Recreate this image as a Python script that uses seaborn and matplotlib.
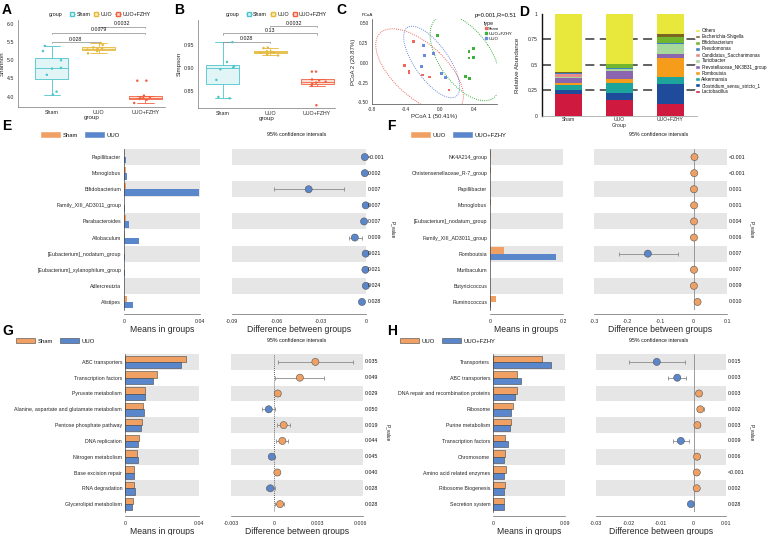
import numpy as np
import pandas as pd
import matplotlib
matplotlib.use('Agg')
import matplotlib.pyplot as plt
import matplotlib.transforms as mtransforms
from matplotlib.patches import Ellipse, Patch
from matplotlib.lines import Line2D
import seaborn as sns

sns.set_theme(style='white')
plt.rcParams['font.family'] = ['Liberation Sans', 'DejaVu Sans']
plt.rcParams['axes.linewidth'] = 0.5
plt.rcParams['axes.edgecolor'] = '#444444'
plt.rcParams['text.color'] = '#111111'
np.random.seed(3)

# ---------------- data ----------------
groups = ['Sham', 'UUO', 'UUO+FZHY']
shannon_sham = [4.06, 4.14, 4.60, 4.77, 4.79, 5.00, 5.25, 5.39]
shannon_uuo = [5.19, 5.25, 5.29, 5.31, 5.33, 5.35, 5.42, 5.47]
shannon_fzhy = [3.83, 3.92, 3.94, 3.96, 3.97, 3.99, 4.03, 4.44, 4.44]
shannon_p = ['0.028', '0.0079', '0.0032']
simpson_sham = [0.835, 0.838, 0.875, 0.898, 0.902, 0.905, 0.914, 0.957]
simpson_uuo = [0.928, 0.930, 0.934, 0.935, 0.936, 0.937, 0.944, 0.945]
simpson_fzhy = [0.820, 0.862, 0.866, 0.869, 0.871, 0.874, 0.876, 0.893, 0.893]
simpson_p = ['0.028', '0.13', '0.0032']

pc_type = ['Sham'] * 7 + ['UUO'] * 6 + ['UUO+FZHY'] * 7
pc1 = [-0.31, -0.42, -0.365, -0.365, -0.21, -0.12, 0.106,
       -0.19, -0.08, -0.18, -0.22, 0.02, 0.06,
       -0.03, 0.39, 0.34, 0.34, 0.39, 0.30, 0.35]
pc2 = [0.27, -0.04, -0.11, -0.13, -0.155, -0.18, -0.345,
       0.22, 0.12, 0.095, -0.05, -0.14, -0.19,
       0.345, 0.18, 0.14, 0.06, 0.07, -0.17, -0.20]

genera = ['Lactobacillus', 'Clostridium_sensu_stricto_1', 'Akkermansia', 'Romboutsia',
          'Prevotellaceae_NK3B31_group', 'Turicibacter', 'Candidatus_Saccharimonas',
          'Pseudomonas', 'Bifidobacterium', 'Escherichia-Shigella', 'Others']
abund_sham = [0.22, 0.03, 0.05, 0.02, 0.05, 0.015, 0.025, 0.01, 0.005, 0.005, 0.57]
abund_uuo = [0.16, 0.07, 0.095, 0.035, 0.08, 0.02, 0.005, 0.005, 0.04, 0.0, 0.49]
abund_fzhy = [0.12, 0.19, 0.07, 0.185, 0.045, 0.095, 0.005, 0.005, 0.06, 0.025, 0.20]

E_feats = ['Papillibacter', 'Monoglobus', 'Bifidobacterium', 'Family_XIII_AD3011_group',
           'Parabacteroides', 'Allobaculum', '[Eubacterium]_nodatum_group',
           '[Eubacterium]_xylanophilum_group', 'Adlercreutzia', 'Alistipes']
E_sham = [0.0002, 0.0008, 0.0010, 0.0001, 0.0012, 0.0003, 0.0001, 0.0002, 0.0001, 0.0018]
E_uuo = [0.0010, 0.0016, 0.0395, 0.0003, 0.0025, 0.0078, 0.0003, 0.0006, 0.0002, 0.0045]
E_diff = [-0.0008, -0.0008, -0.0385, -0.0002, -0.0013, -0.0075, -0.0002, -0.0004, -0.0001, -0.0027]
E_lo = [-0.0012, -0.0013, -0.0616, -0.0004, -0.0021, -0.0117, -0.0004, -0.0007, -0.0003, -0.0040]
E_hi = [-0.0004, -0.0003, -0.0149, 0.0, -0.0005, -0.0027, 0.0, -0.0001, 0.0, -0.0014]
E_p = ['<0.001', '0.002', '0.007', '0.007', '0.007', '0.009', '0.021', '0.021', '0.024', '0.028']

F_feats = ['NK4A214_group', 'Christensenellaceae_R-7_group', 'Papillibacter', 'Monoglobus',
           '[Eubacterium]_nodatum_group', 'Family_XIII_AD3011_group', 'Romboutsia',
           'Muribaculum', 'Butyricicoccus', 'Ruminococcus']
F_uuo = [0.0030, 0.0020, 0.0010, 0.0016, 0.0010, 0.0010, 0.0390, 0.0010, 0.0010, 0.0155]
F_fzhy = [0.0008, 0.0005, 0.0003, 0.0005, 0.0002, 0.0003, 0.1820, 0.0003, 0.0005, 0.0040]
F_diff = [0.0022, 0.0015, 0.0007, 0.0011, 0.0008, 0.0007, -0.1380, 0.0007, 0.0005, 0.0115]
F_lo = [0.0012, 0.0008, 0.0003, 0.0005, 0.0003, 0.0003, -0.2260, 0.0003, 0.0002, 0.0060]
F_hi = [0.0032, 0.0022, 0.0011, 0.0017, 0.0013, 0.0011, -0.0480, 0.0011, 0.0008, 0.0170]
F_p = ['<0.001', '<0.001', '0.001', '0.001', '0.004', '0.006', '0.007', '0.007', '0.009', '0.010']

G_feats = ['ABC transporters', 'Transcription factors', 'Pyruvate metabolism',
           'Alanine, aspartate and glutamate metabolism', 'Pentose phosphate pathway',
           'DNA replication', 'Nitrogen metabolism', 'Base excision repair',
           'RNA degradation', 'Glycerolipid metabolism']
G_sham = [0.0328, 0.0174, 0.0108, 0.0099, 0.0090, 0.0075, 0.0065, 0.0050, 0.0050, 0.0045]
G_uuo = [0.0301, 0.0154, 0.0108, 0.0104, 0.0084, 0.0070, 0.0068, 0.0047, 0.0052, 0.0040]
G_diff = [0.00288, 0.0018, 0.00026, -0.00037, 0.00067, 0.00058, -0.00016, 0.00023, -0.00026, 0.00042]
G_lo = [0.0003, 0.0001, 0.0001, -0.00084, 0.0002, 0.00014, -0.00037, 0.0001, -0.00053, 0.0001]
G_hi = [0.0055, 0.0035, 0.0004, 0.0001, 0.0011, 0.0010, 0.0001, 0.00035, 0.00005, 0.0007]
G_p = ['0.035', '0.049', '0.029', '0.050', '0.019', '0.044', '0.045', '0.040', '0.028', '0.028']

H_feats = ['Transporters', 'ABC transporters', 'DNA repair and recombination proteins',
           'Ribosome', 'Purine metabolism', 'Transcription factors', 'Chromosome',
           'Amino acid related enzymes', 'Ribosome Biogenesis', 'Secretion system']
H_uuo = [0.0610, 0.0299, 0.0294, 0.0245, 0.0224, 0.0153, 0.0153, 0.0158, 0.0145, 0.0137]
H_fzhy = [0.0726, 0.0348, 0.0274, 0.0224, 0.0216, 0.0190, 0.0141, 0.0141, 0.0133, 0.0137]
H_diff = [-0.0113, -0.0050, 0.0017, 0.0021, 0.0012, -0.0039, 0.0011, 0.0010, 0.0010, -0.0008]
H_lo = [-0.0198, -0.0077, 0.0010, 0.0011, 0.0005, -0.0063, 0.0006, 0.0006, 0.0006, -0.0011]
H_hi = [-0.0027, -0.0022, 0.0024, 0.0031, 0.0019, -0.0013, 0.0016, 0.0014, 0.0014, -0.0005]
H_p = ['0.015', '0.003', '0.003', '0.002', '0.003', '0.009', '0.006', '<0.001', '0.002', '0.028']

# ---------------- style ----------------
ORANGE = '#EFA062'
BLUE = '#5A86CB'
GREY = '#E6E6E6'
BOX_EDGE = ['#4CC5CC', '#E5B83A', '#F2603E']
BOX_FILL = ['#E2F5F6', '#FBEFC9', '#FCDDD4']
PC_COLS = {'Sham': '#F0685A', 'UUO+FZHY': '#3DB03D', 'UUO': '#6A8AE0'}
GEN_COLS = ['#D0193F', '#1F4B9B', '#1EA59B', '#F59C1A', '#8B65B0', '#A6D79B',
            '#E98A8E', '#3D80C3', '#72B62D', '#7A6620', '#E8E83C']
SMALL = 3.8

W, H = 768, 535
fig = plt.figure(figsize=(W / 100, H / 100), dpi=100)


def add_ax(l, t, r, b):
    return fig.add_axes([l / W, 1 - b / H, (r - l) / W, (b - t) / H])


def ftext(x, y, s, **kw):
    fig.text(x / W, 1 - y / H, s, **kw)


def letter(x, y, s):
    ftext(x, y, s, fontsize=10, fontweight='bold', va='top', ha='left', color='black')


# ---------------- A / B boxplots ----------------
def box_panel(box, vals, ylabel, ylim, yticks, ytl, xlim, brackets, pv):
    ax = add_ax(*box)
    df = pd.DataFrame({'group': np.repeat(groups, [len(v) for v in vals]),
                       'value': np.concatenate(vals)})
    sns.boxplot(data=df, x='group', y='value', hue='group', order=groups, hue_order=groups,
                palette=BOX_FILL, saturation=1, width=0.7, linewidth=0.6, showfliers=False,
                legend=False, ax=ax)
    for p in ax.patches:
        idx = int(round(np.mean(p.get_path().vertices[:, 0])))
        p.set_edgecolor(BOX_EDGE[min(max(idx, 0), 2)])
    for ln in ax.lines:
        xd = np.asarray(ln.get_xdata(), dtype=float)
        if len(xd):
            idx = int(round(np.mean(xd)))
            ln.set_color(BOX_EDGE[min(max(idx, 0), 2)])
    sns.stripplot(data=df, x='group', y='value', hue='group', order=groups, hue_order=groups,
                  palette=BOX_EDGE, size=1.8, jitter=0.25, legend=False, ax=ax)
    for (x0, x1, y), t in zip(brackets, pv):
        d = (ylim[1] - ylim[0]) * 0.015
        ax.plot([x0, x0, x1, x1], [y - d, y, y, y - d], color='#8A8A8A', lw=0.5)
        ax.text((x0 + x1) / 2, y + d * 0.3, t, ha='center', va='bottom', fontsize=SMALL)
    ax.set_ylim(*ylim)
    ax.set_xlim(*xlim)
    ax.set_yticks(yticks)
    ax.set_yticklabels(ytl)
    ax.set_ylabel(ylabel, fontsize=4.5, labelpad=1.5)
    ax.set_xlabel('group', fontsize=4.5, labelpad=0)
    ax.tick_params(labelsize=SMALL, length=1.5, width=0.4, pad=1)
    for s in ['top', 'right']:
        ax.spines[s].set_visible(False)
    for s in ['left', 'bottom']:
        ax.spines[s].set_color('#777777')
    handles = [Line2D([0], [0], color=BOX_EDGE[i], lw=0.6, marker='s', markersize=3,
                      markerfacecolor=BOX_FILL[i], markeredgecolor=BOX_EDGE[i], label=g)
               for i, g in enumerate(groups)]
    ax.legend(handles=handles, loc='lower left', bbox_to_anchor=(0.33, 1.0), ncol=3,
              fontsize=SMALL, frameon=False, handlelength=1.0, columnspacing=0.6,
              handletextpad=0.3, borderaxespad=0.2)
    ax.text(0.30, 1.06, 'group', transform=ax.transAxes, fontsize=SMALL, ha='right', va='center')
    return ax


letter(2, 3, 'A')
box_panel((18, 20, 165, 107), [shannon_sham, shannon_uuo, shannon_fzhy], 'Shannon',
          (3.72, 6.1), [4.0, 4.5, 5.0, 5.5, 6.0], ['4.0', '4.5', '5.0', '5.5', '6.0'],
          (-0.72, 2.42), [(0, 1, 5.5), (0, 2, 5.75), (1, 2, 5.92)], shannon_p)
letter(174, 3, 'B')
box_panel((198, 20, 335, 108), [simpson_sham, simpson_uuo, simpson_fzhy], 'Simpson',
          (0.814, 1.005), [0.85, 0.90, 0.95], ['0.85', '0.90', '0.95'],
          (-0.53, 2.38), [(0, 1, 0.958), (0, 2, 0.976), (1, 2, 0.992)], simpson_p)

# ---------------- C PCoA ----------------
letter(336, 3, 'C')
axC = add_ax(372, 19, 497, 104)
pc_df = pd.DataFrame({'PC1': pc1, 'PC2': pc2, 'type': pc_type})
for t in ['Sham', 'UUO', 'UUO+FZHY']:
    sub = pc_df[pc_df['type'] == t]
    cov = np.cov(sub['PC1'], sub['PC2'])
    vals, vecs = np.linalg.eigh(cov)
    ang = np.degrees(np.arctan2(vecs[1, 1], vecs[0, 1]))
    k = 2.8
    e = Ellipse((sub['PC1'].mean(), sub['PC2'].mean()), 2 * k * np.sqrt(vals[1]),
                2 * k * np.sqrt(vals[0]), angle=ang, fill=False, ls=(0, (1, 1.2)),
                lw=0.7, edgecolor=PC_COLS[t])
    axC.add_patch(e)
sns.scatterplot(data=pc_df, x='PC1', y='PC2', hue='type', hue_order=['Sham', 'UUO+FZHY', 'UUO'],
                palette=PC_COLS, s=4, marker='s', linewidth=0, legend=False, ax=axC)
axC.set_xlim(-0.8, 0.67)
axC.set_ylim(-0.52, 0.55)
axC.set_xticks([-0.8, -0.4, 0.0, 0.4])
axC.set_xticklabels(['-0.8', '-0.4', '0.0', '0.4'])
axC.set_yticks([-0.5, -0.25, 0, 0.25, 0.5])
axC.set_yticklabels(['-0.50', '-0.25', '0.00', '0.25', '0.50'])
axC.tick_params(labelsize=3.4, length=1.5, width=0.4, pad=1)
axC.set_xlabel('PCoA 1 (50.41%)', fontsize=4.3, labelpad=1)
axC.set_ylabel('PCoA 2 (20.87%)', fontsize=4.3, labelpad=1)
for s in ['top', 'right']:
    axC.spines[s].set_visible(False)
ftext(362, 15, 'PCoA', fontsize=3.2, va='center')
ftext(475, 15, 'p=0.001,R=0.51', fontsize=4.2, va='center')
pc_handles = [Line2D([0], [0], lw=0, marker='s', markersize=1.8, color=PC_COLS[t], label=t)
              for t in ['Sham', 'UUO+FZHY', 'UUO']]
fig.legend(handles=pc_handles, title='type', loc='upper left',
           bbox_to_anchor=(482 / W, 1 - 19 / H), fontsize=3.2, title_fontsize=3.8,
           frameon=False, handlelength=0.6, handletextpad=0.3, labelspacing=0.15,
           borderpad=0, alignment='left')

# ---------------- D stacked bars ----------------
letter(519, 5, 'D')
axD = add_ax(542, 14, 697, 116)
ab = np.array([abund_sham, abund_uuo, abund_fzhy])
cum = np.cumsum(ab, axis=1)
for yv in [0.25, 0.5, 0.75]:
    axD.axhline(yv, color='#555555', lw=1.3, ls=(0, (5, 3)), zorder=0)
for k in reversed(range(len(genera))):
    sns.barplot(x=groups, y=cum[:, k], color=GEN_COLS[k], saturation=1, width=0.53,
                errorbar=None, linewidth=0, edgecolor='none', ax=axD, zorder=2)
axD.set_xlim(-0.52, 2.52)
axD.set_ylim(0, 1.0)
axD.set_yticks([0, 0.25, 0.5, 0.75, 1.0])
axD.set_yticklabels(['0', '0.25', '0.5', '0.75', '1'])
axD.set_xticks([0.5, 1.5], minor=True)
axD.tick_params(axis='y', labelsize=3.6, length=2, width=0.8, pad=1)
axD.tick_params(axis='x', which='major', labelsize=3.6, length=0, pad=1)
axD.tick_params(axis='x', which='minor', length=1.5, width=0.4)
axD.set_xlabel('Group', fontsize=3.8, labelpad=0)
axD.set_ylabel('Relative Abundance', fontsize=4.5, labelpad=6)
for s in ['top', 'right']:
    axD.spines[s].set_visible(False)
axD.spines['left'].set_linewidth(1.0)
axD.spines['left'].set_color('#111111')
axD.spines['bottom'].set_color('#999999')
gen_handles = [Patch(facecolor=GEN_COLS[k], label=genera[k]) for k in reversed(range(len(genera)))]
fig.legend(handles=gen_handles, loc='upper left', bbox_to_anchor=(695 / W, 1 - 28 / H),
           fontsize=3.3, frameon=False, handlelength=1.0, handleheight=0.9,
           handletextpad=0.4, labelspacing=0.24, borderpad=0, borderaxespad=0)


# ---------------- E-H extended error bar panels ----------------
def ext_panel(bar_box, diff_box, feats, m1, m2, d, lo, hi, pv, names,
              mlim, mticks, mlabels, dlim, dticks, dlabels, zero_ls, bar_edge,
              leg_xy, ci_xy, pval_x):
    n = len(feats)
    axb = add_ax(*bar_box)
    for i in range(0, n, 2):
        axb.axhspan(i - 0.5, i + 0.5, color=GREY, lw=0, zorder=0)
    df = pd.DataFrame({'feature': list(feats) * 2, 'value': list(m1) + list(m2),
                       'group': [names[0]] * n + [names[1]] * n})
    sns.barplot(data=df, y='feature', x='value', hue='group', order=feats, hue_order=names,
                palette=[ORANGE, BLUE], saturation=1, orient='h', width=0.8, errorbar=None,
                legend=False, edgecolor=bar_edge if bar_edge else 'none',
                linewidth=0.4 if bar_edge else 0, ax=axb, zorder=2)
    axb.set_ylim(n - 0.5, -0.5)
    axb.set_xlim(*mlim)
    axb.set_xticks(mticks)
    axb.set_xticklabels(mlabels)
    axb.set_ylabel('')
    axb.set_xlabel('Means in groups', fontsize=6.2, labelpad=1)
    axb.tick_params(axis='y', length=0, labelsize=SMALL, pad=2)
    axb.tick_params(axis='x', length=2, width=0.4, labelsize=SMALL, pad=1.5)
    for s in ['top', 'right']:
        axb.spines[s].set_visible(False)
    axb.spines['left'].set_linewidth(0.5)
    axb.spines['bottom'].set_position(('outward', 3))
    axb.spines['bottom'].set_color('#666666')

    axd = add_ax(*diff_box)
    for i in range(0, n, 2):
        axd.axhspan(i - 0.5, i + 0.5, color=GREY, lw=0, zorder=0)
    y = np.arange(n)
    d = np.array(d)
    lo = np.array(lo)
    hi = np.array(hi)
    if zero_ls == ':':
        axd.axvline(0, color='#333333', lw=0.6, ls=(0, (1, 1.5)), zorder=1)
    else:
        axd.axvline(0, color='#8C8C8C', lw=0.6, zorder=1)
    axd.errorbar(d, y, xerr=[d - lo, hi - d], fmt='none', ecolor='#8A8A8A', elinewidth=0.6,
                 capsize=1.2, capthick=0.6, zorder=2)
    sign = np.where(d > 0, names[0], names[1])
    sns.scatterplot(x=d, y=y, hue=sign, hue_order=names, palette=[ORANGE, BLUE], s=26,
                    edgecolor='#555555', linewidth=0.4, legend=False, ax=axd, zorder=3)
    for c in axd.collections:
        c.set_clip_on(False)
    axd.set_ylim(n - 0.5, -0.5)
    axd.set_xlim(*dlim)
    axd.set_xticks(dticks)
    axd.set_xticklabels(dlabels)
    axd.set_yticks([])
    axd.set_xlabel('Difference between groups', fontsize=6.2, labelpad=1)
    axd.tick_params(axis='x', length=2, width=0.4, labelsize=SMALL, pad=1.5)
    for s in ['top', 'right', 'left']:
        axd.spines[s].set_visible(False)
    axd.spines['bottom'].set_position(('outward', 3))
    axd.spines['bottom'].set_color('#666666')
    tr = mtransforms.blended_transform_factory(axd.transAxes, axd.transData)
    for i, p in enumerate(pv):
        axd.text(1.01, i, p, transform=tr, va='center', ha='left', fontsize=SMALL)
    ftext(pval_x, (diff_box[1] + diff_box[3]) / 2, 'P_value', rotation=270, fontsize=3.4,
          ha='center', va='center')
    ftext(ci_xy[0], ci_xy[1], '95% confidence intervals', fontsize=SMALL, ha='center', va='center')
    handles = [Patch(facecolor=ORANGE, edgecolor=bar_edge if bar_edge else ORANGE, lw=0.4, label=names[0]),
               Patch(facecolor=BLUE, edgecolor=bar_edge if bar_edge else BLUE, lw=0.4, label=names[1])]
    fig.legend(handles=handles, loc='center left', bbox_to_anchor=(leg_xy[0] / W, 1 - leg_xy[1] / H),
               ncol=2, frameon=False, fontsize=4.2, handlelength=3.2, handleheight=1.0,
               columnspacing=1.2, handletextpad=0.5, borderpad=0, borderaxespad=0)


letter(2, 119, 'E')
ext_panel((124, 149, 200, 310), (232, 149, 366, 310), E_feats, E_sham, E_uuo, E_diff, E_lo, E_hi,
          E_p, ['Sham', 'UUO'], (0, 0.04), [0, 0.04], ['0', '0.04'],
          (-0.09, 0.0), [-0.09, -0.06, -0.03, 0], ['-0.09', '-0.06', '-0.03', '0'],
          '-', None, (41, 135), (297, 135), 393)
letter(387, 119, 'F')
ext_panel((490, 149, 563, 310), (594, 149, 727, 310), F_feats, F_uuo, F_fzhy, F_diff, F_lo, F_hi,
          F_p, ['UUO', 'UUO+FZHY'], (0, 0.2), [0, 0.2], ['0', '0.2'],
          (-0.3, 0.1), [-0.3, -0.2, -0.1, 0, 0.1], ['-0.3', '-0.2', '-0.1', '0', '0.1'],
          '-', None, (411, 135), (659, 135), 752)
letter(2, 324, 'G')
ext_panel((125, 354, 199, 512), (231, 354, 363, 512), G_feats, G_sham, G_uuo, G_diff, G_lo, G_hi,
          G_p, ['Sham', 'UUO'], (0, 0.04), [0, 0.04], ['0', '0.04'],
          (-0.003, 0.0062), [-0.003, 0, 0.003, 0.006], ['-0.003', '0', '0.003', '0.006'],
          ':', '#444444', (16, 341), (297, 341), 388)
letter(387, 324, 'H')
ext_panel((493, 354, 565, 512), (596, 354, 726, 512), H_feats, H_uuo, H_fzhy, H_diff, H_lo, H_hi,
          H_p, ['UUO', 'UUO+FZHY'], (0, 0.09), [0, 0.09], ['0', '0.09'],
          (-0.03, 0.01), [-0.03, -0.02, -0.01, 0, 0.01], ['-0.03', '-0.02', '-0.01', '0', '0.01'],
          '-', '#444444', (400, 341), (659, 341), 752)

fig.savefig('out.png', dpi=100)
